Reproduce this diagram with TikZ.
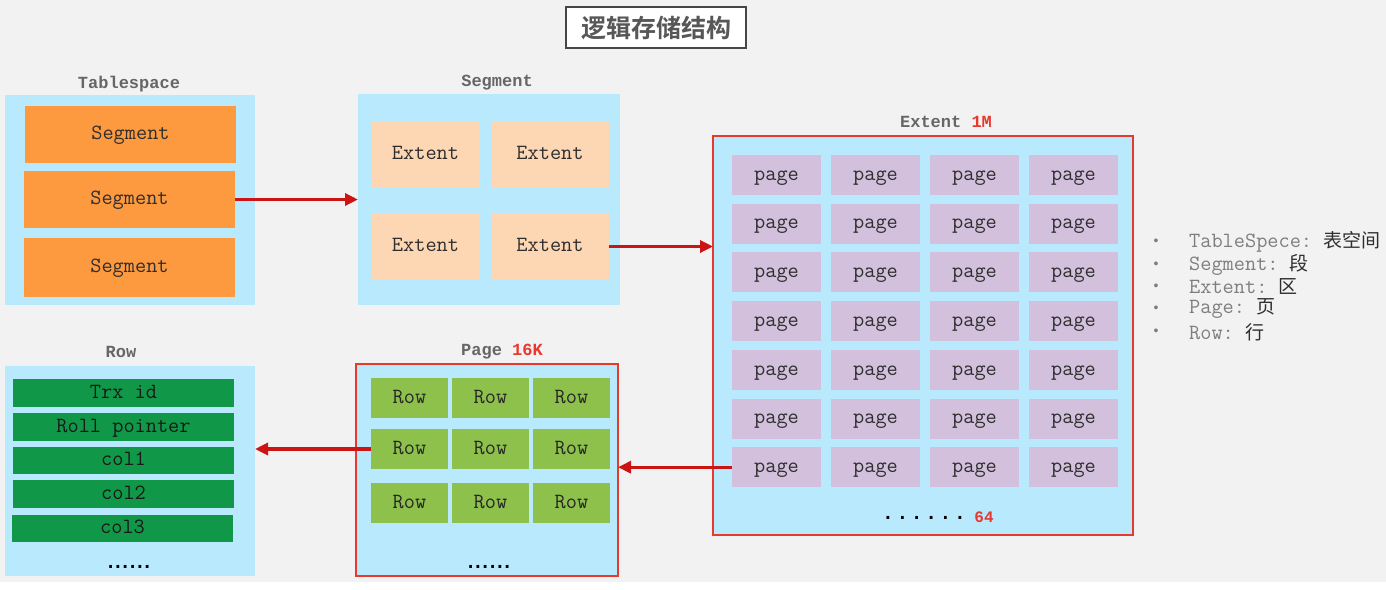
\documentclass[tikz,border=0pt]{standalone}
\usepackage{fontspec}
\setmonofont{Liberation Mono}
\newfontfamily\lmtt{Latin Modern Mono}
\newfontfamily\dotfont{DejaVu Sans Mono Bold}
\newfontfamily\cjk{Noto Sans CJK SC}
\newfontfamily\cjkb{Noto Sans CJK SC Bold}
\usetikzlibrary{arrows.meta}
\definecolor{bgc}{HTML}{F2F2F2}
\definecolor{panel}{HTML}{B9E9FC}
\definecolor{orng}{HTML}{FD9A40}
\definecolor{peach}{HTML}{FDD6B3}
\definecolor{lav}{HTML}{D2C0DC}
\definecolor{lgreen}{HTML}{8DC14C}
\definecolor{dgreen}{HTML}{109848}
\definecolor{redb}{HTML}{E8392F}
\definecolor{arr}{HTML}{CC1414}
\definecolor{hdr}{HTML}{666666}
\definecolor{txt}{HTML}{2E2E2E}
\definecolor{leg}{HTML}{7E7E7E}
\newcommand\bx[7]{\node[#6, minimum width={(#4-#2)*1pt}, minimum height={(#5-#3)*1pt}] (#1) at ({(#2+#4)/2},{(#3+#5)/2}) {#7};}
\newcommand\dd[1]{\makebox[#1]{.}}
\begin{document}
\begin{tikzpicture}[x=1pt,y=-1pt,
  box/.style={inner sep=0pt, outer sep=0pt, font=\lmtt\fontsize{21.7}{22}\selectfont, text=txt, text height=16pt, text depth=5.6pt},
  panelbox/.style={box, fill=panel},
  redpanel/.style={box, fill=panel, draw=redb, line width=1.5pt},
  hdrlabel/.style={inner sep=0pt, font=\ttfamily\bfseries\fontsize{17}{19}\selectfont, text=hdr},
  flow/.style={draw=arr, line width=3.2pt, -{Triangle[length=13pt,width=12pt]}},
  dots/.style={inner sep=0pt, font=\dotfont\fontsize{17}{18}\selectfont, text=black},
  legtext/.style={inner sep=0pt, anchor=west, font=\lmtt\fontsize{21.7}{23}\selectfont, text=leg},
  bullet/.style={inner sep=0pt, font=\ttfamily\fontsize{14}{15}\selectfont, text=leg}
]
\useasboundingbox (0,0) rectangle (1386,589);
\fill[bgc] (0,0) rectangle (1386,589);
\fill[white] (0,582) rectangle (1386,589);

% title
\bx{title}{566}{7}{746}{48}{inner sep=0pt, fill=white, draw=hdr!70!black, line width=1.3pt}{\cjkb\fontsize{25}{28}\selectfont\textcolor{hdr!85!black}{逻辑存储结构}}

% Tablespace
\node[hdrlabel] (tslabel) at (129,84) {Tablespace};
\bx{ts}{5}{95}{255}{305}{panelbox}{}
\bx{seg1}{25}{106}{236}{163}{box, fill=orng}{Segment}
\bx{seg2}{24}{171}{235}{228}{box, fill=orng}{Segment}
\bx{seg3}{24}{238}{235}{297}{box, fill=orng}{Segment}

% Segment
\node[hdrlabel] (seglabel) at (497,83) {Segment};
\bx{sp}{358}{94}{620}{305}{panelbox}{}
\bx{ext1}{371}{121}{480}{187}{box, fill=peach}{Extent}
\bx{ext2}{491}{121}{609}{187}{box, fill=peach}{Extent}
\bx{ext3}{371}{213}{480}{280}{box, fill=peach}{Extent}
\bx{ext4}{491}{213}{609}{280}{box, fill=peach}{Extent}

% Extent
\node[hdrlabel] (extlabel) at (946,122) {Extent \textcolor{redb}{1M}};
\bx{ep}{713}{136}{1133}{535}{redpanel}{}
\foreach \r in {1,...,7}{
  \foreach \c/\xl in {1/732,2/831,3/930,4/1029}{
    \pgfmathsetmacro\yc{175+48.7*(\r-1)}
    \node[box, fill=lav, minimum width=89pt, minimum height=40pt] (p\r\c) at ({\xl+44.5},\yc) {page};
  }
}
\node[dots] (edots) at (924,518) {\dd{14.4pt}\dd{14.4pt}\dd{14.4pt}\dd{14.4pt}\dd{14.4pt}\dd{14.4pt}};
\node[inner sep=0pt, font=\ttfamily\bfseries\fontsize{16}{18}\selectfont, text=redb] (e64) at (984,517) {64};

% Page
\node[hdrlabel] (pglabel) at (502,352) {Page \textcolor{redb}{16K}};
\bx{pp}{356}{364}{618}{576}{redpanel}{}
\foreach \r/\yt in {1/378,2/429,3/483}{
  \foreach \c/\xl in {1/371,2/452,3/533}{
    \node[box, fill=lgreen, text=black!85, minimum width=77pt, minimum height=40pt] (r\r\c) at ({\xl+38.5},{\yt+20}) {Row};
  }
}
\node[dots] (pdots) at (489,567) {\dd{7.3pt}\dd{7.3pt}\dd{7.3pt}\dd{7.3pt}\dd{7.3pt}\dd{7.3pt}};

% Row
\node[hdrlabel] (rowlabel) at (121,352) {Row};
\bx{rp}{5}{366}{255}{576}{panelbox}{}
\bx{trx}{13}{379}{234}{407}{box, fill=dgreen, text=black!90}{Trx id}
\bx{roll}{13}{413}{234}{441}{box, fill=dgreen, text=black!90}{Roll pointer}
\bx{col1}{13}{447}{234}{474}{box, fill=dgreen, text=black!90}{col1}
\bx{col2}{13}{480}{234}{508}{box, fill=dgreen, text=black!90}{col2}
\bx{col3}{12}{515}{233}{542}{box, fill=dgreen, text=black!90}{col3}
\node[dots] (rdots) at (129,567) {\dd{7.3pt}\dd{7.3pt}\dd{7.3pt}\dd{7.3pt}\dd{7.3pt}\dd{7.3pt}};

% connectors
\draw[flow] (seg2.east) -- (seg2.east -| sp.west);
\draw[flow] (ext4.east) -- (ext4.east -| ep.west);
\draw[flow] (p71.west) -- (p71.west -| pp.east);
\draw[flow] (r21.west) -- (r21.west -| rp.east);

% legend
\foreach \i/\y/\en/\zh in {1/242/TableSpece:/表空间, 2/265/Segment:/段, 3/287/Extent:/区, 4/309/Page:/页, 5/332/Row:/行}{
  \node[bullet] (b\i) at (1156,\y) {•};
  \node[legtext] (l\i) at (1189,\y) {\en\ {\cjk\fontsize{19}{20}\selectfont\textcolor{txt}{\zh}}};
}
\end{tikzpicture}
\end{document}
